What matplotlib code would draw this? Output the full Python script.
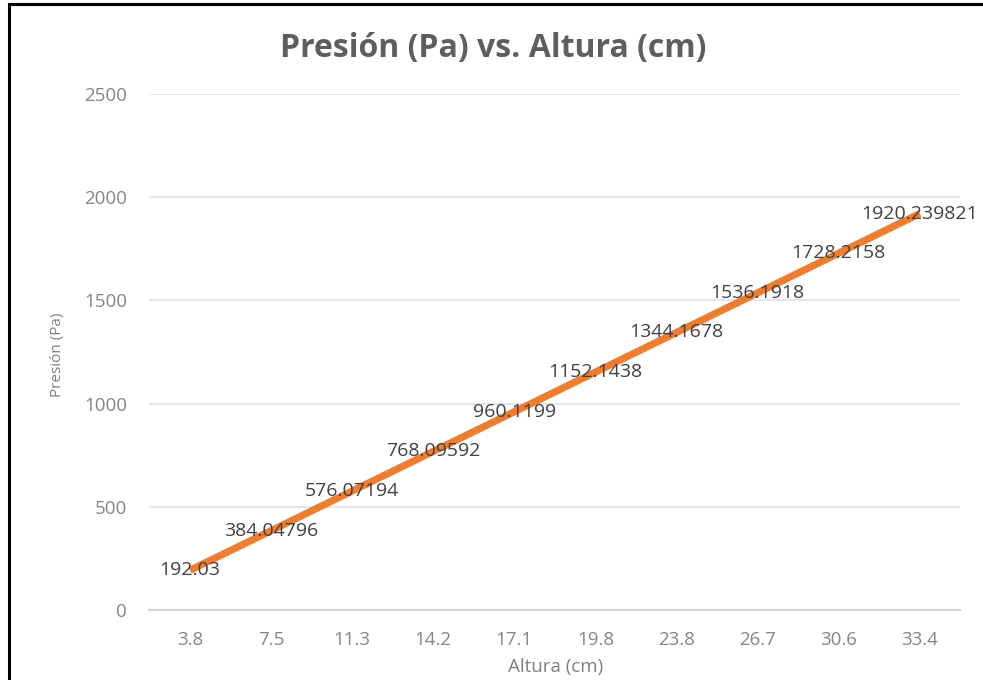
import numpy as np
import matplotlib.pyplot as plt
from matplotlib.lines import Line2D

# presion hidrostatica frente a altura de la columna
altura = ["3.8", "7.5", "11.3", "14.2", "17.1", "19.8", "23.8", "26.7", "30.6", "33.4"]
presion = [192.03, 384.04796, 576.07194, 768.09592, 960.1199,
           1152.1438, 1344.1678, 1536.1918, 1728.2158, 1920.239821]
etiquetas = ["192.03", "384.04796", "576.07194", "768.09592", "960.1199",
             "1152.1438", "1344.1678", "1536.1918", "1728.2158", "1920.239821"]

plt.rcParams['font.family'] = ['Open Sans', 'DejaVu Sans']

fig = plt.figure(figsize=(9.83, 6.8), dpi=100)
ax = fig.add_axes([0.152, 0.103, 0.825, 0.759])

x = np.arange(len(altura))
ax.plot(x, presion, color="#ED7D31", lw=5.2, solid_capstyle="butt", zorder=3)
for xi, yi, txt in zip(x, presion, etiquetas):
    ax.text(xi, yi, txt, ha="center", va="center", fontsize=14,
            color="#404040", zorder=4)

ax.set_xlim(-0.5, len(altura) - 0.5)
ax.set_ylim(0, 2500)
ax.set_yticks(np.arange(0, 2501, 500))
ax.set_xticks(x)
ax.set_xticklabels(altura)
ax.tick_params(axis="both", length=0, labelsize=13.5, labelcolor="#858585")
ax.tick_params(axis="x", pad=15)
ax.tick_params(axis="y", pad=16)
ax.grid(axis="y", color="#e3e3e3", lw=1.3)
for s in ["top", "right", "left"]:
    ax.spines[s].set_visible(False)
ax.spines["bottom"].set_color("#d4d4d4")
ax.spines["bottom"].set_linewidth(1.6)
ax.set_axisbelow(True)

fig.text(0.502, 0.929, "Presión (Pa) vs. Altura (cm)", ha="center", va="center",
         fontsize=23, fontweight="bold", color="#5e5e5e")
fig.text(0.565, 0.019, "Altura (cm)", ha="center", va="center",
         fontsize=13.5, color="#7f7f7f")
fig.text(0.058, 0.478, "Presión (Pa)", ha="center", va="center", rotation=90,
         fontsize=11, color="#7f7f7f")

# marco del grafico
fig.add_artist(Line2D([0.009, 1.0], [0.994, 0.994], transform=fig.transFigure,
                      color="black", lw=2.2))
fig.add_artist(Line2D([0.009, 0.009], [0.0, 0.994], transform=fig.transFigure,
                      color="black", lw=2.2))

fig.savefig("out.png", dpi=100, facecolor="white")
